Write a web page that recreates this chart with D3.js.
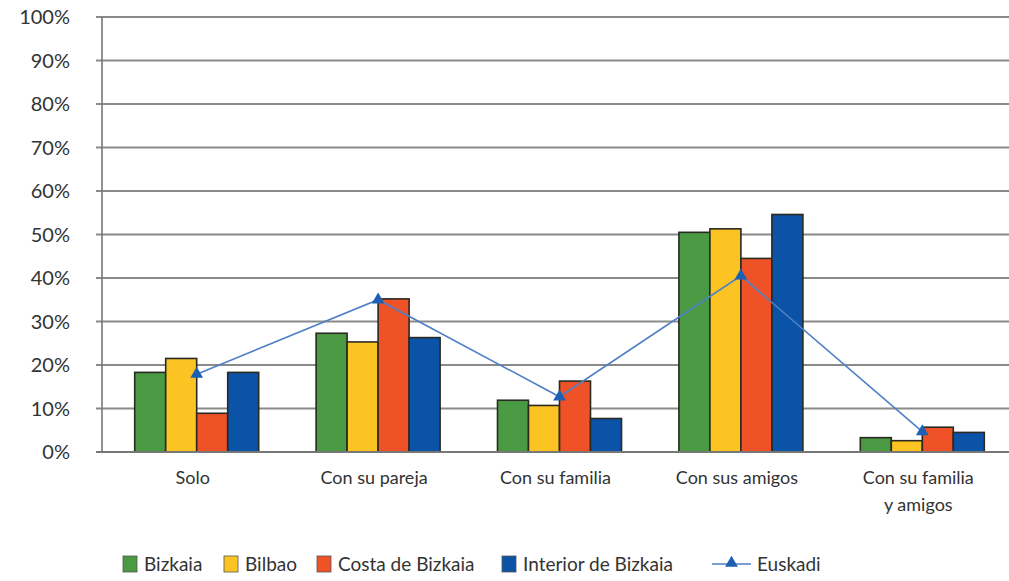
<!DOCTYPE html>
<html>
<head>
<meta charset="utf-8">
<script src="https://cdn.jsdelivr.net/npm/d3@7"></script>
<style>
  body { margin: 0; background: #fff; }
  text { font-family: Lato, "Open Sans", sans-serif; fill: #333; }
</style>
</head>
<body>
<div class="canvas"></div>
<script>
const categories = [['Solo'], ['Con su pareja'], ['Con su familia'], ['Con sus amigos'], ['Con su familia', 'y amigos']];
const catKeys = categories.map(c => c.join(' '));
const seriesNames = ['Bizkaia', 'Bilbao', 'Costa de Bizkaia', 'Interior de Bizkaia'];
const bizkaia = [18.3, 27.3, 11.9, 50.5, 3.3];
const bilbao = [21.5, 25.3, 10.7, 51.3, 2.6];
const costa = [8.9, 35.2, 16.3, 44.5, 5.7];
const interior = [18.3, 26.3, 7.7, 54.6, 4.5];
const euskadi = [17.9, 35.0, 12.7, 40.5, 4.7];
const yTicks = [0, 10, 20, 30, 40, 50, 60, 70, 80, 90, 100];

const colors = ['#4a9a44', '#fbc423', '#ef5226', '#0b53a6'];
const lineColor = '#4f7fc6';
const markerColor = '#1d5fb3';

const width = 1009, height = 581;
const margin = {top: 17, right: 0, bottom: 129, left: 102};
const graphWidth = width - margin.left - margin.right;
const graphHeight = height - margin.top - margin.bottom;

const svg = d3.select('.canvas')
    .append('svg')
    .attr('width', width)
    .attr('height', height);

const graph = svg.append('g')
    .attr('transform', `translate(${margin.left}, ${margin.top})`);

const x = d3.scaleBand().domain(catKeys).range([0, graphWidth]);
const groupWidth = 124;
const shift = 4;
const x1 = d3.scaleBand().domain(seriesNames).range([0, groupWidth]);
const y = d3.scaleLinear().domain([0, 100]).range([graphHeight, 0]);

// gridlines
graph.append('g')
    .selectAll('line')
    .data(yTicks)
    .enter().append('line')
    .attr('x1', -6)
    .attr('x2', graphWidth)
    .attr('y1', d => y(d))
    .attr('y2', d => y(d))
    .attr('stroke', '#8a8a8a')
    .attr('stroke-width', 1.8);

// y axis line
graph.append('line')
    .attr('x1', 0).attr('x2', 0)
    .attr('y1', 0).attr('y2', graphHeight)
    .attr('stroke', '#777')
    .attr('stroke-width', 1.6);

// y labels
graph.append('g')
    .selectAll('text')
    .data(yTicks)
    .enter().append('text')
    .attr('x', -32)
    .attr('y', d => y(d) + 7)
    .attr('text-anchor', 'end')
    .attr('font-size', 20)
    .text(d => d + '%');

const allSeries = [bizkaia, bilbao, costa, interior];

const groups = graph.selectAll('.grp')
    .data(catKeys)
    .enter().append('g')
    .attr('class', 'grp')
    .attr('transform', d => `translate(${x(d) + x.bandwidth() / 2 - groupWidth / 2 + shift}, 0)`);

groups.selectAll('rect')
    .data((d, i) => seriesNames.map((s, j) => ({s, j, v: allSeries[j][i]})))
    .enter().append('rect')
    .attr('x', d => x1(d.s))
    .attr('width', x1.bandwidth())
    .attr('y', d => y(d.v))
    .attr('height', d => graphHeight - y(d.v))
    .attr('fill', d => colors[d.j])
    .attr('stroke', '#2a2a22')
    .attr('stroke-width', 1.6);

// x axis line on top of bars
graph.append('line')
    .attr('x1', -6).attr('x2', graphWidth)
    .attr('y1', graphHeight).attr('y2', graphHeight)
    .attr('stroke', '#777')
    .attr('stroke-width', 1.8);

// category labels
graph.append('g')
    .selectAll('text')
    .data(categories)
    .enter().append('text')
    .attr('text-anchor', 'middle')
    .attr('font-size', 18)
    .attr('x', (d, i) => x(catKeys[i]) + x.bandwidth() / 2)
    .attr('y', graphHeight + 32)
    .selectAll('tspan')
    .data(d => d)
    .enter().append('tspan')
    .attr('x', function() { return d3.select(this.parentNode).attr('x'); })
    .attr('dy', (d, i) => i === 0 ? 0 : 27)
    .text(d => d);

// Euskadi line
const lineX = (d, i) => x(catKeys[i]) + x.bandwidth() / 2 + shift;
const line = d3.line()
    .x(lineX)
    .y(d => y(d));

graph.append('path')
    .datum(euskadi)
    .attr('fill', 'none')
    .attr('stroke', lineColor)
    .attr('stroke-width', 1.6)
    .attr('d', line);

const tri = d3.symbol().type(d3.symbolTriangle).size(70);
graph.append('g')
    .selectAll('path')
    .data(euskadi)
    .enter().append('path')
    .attr('d', tri)
    .attr('transform', (d, i) => `translate(${lineX(d, i)}, ${y(d)})`)
    .attr('fill', markerColor);

// legend
const legendItems = [
  {name: 'Bizkaia', x: 123, type: 'rect', color: colors[0]},
  {name: 'Bilbao', x: 224, type: 'rect', color: colors[1]},
  {name: 'Costa de Bizkaia', x: 317, type: 'rect', color: colors[2]},
  {name: 'Interior de Bizkaia', x: 502, type: 'rect', color: colors[3]},
  {name: 'Euskadi', x: 712, type: 'line', color: lineColor}
];

const legend = svg.append('g');
legendItems.forEach(item => {
  const g = legend.append('g').attr('transform', `translate(${item.x}, 564)`);
  if (item.type === 'rect') {
    g.append('rect')
      .attr('x', 0).attr('y', -8)
      .attr('width', 14).attr('height', 16)
      .attr('fill', item.color)
      .attr('stroke', '#555')
      .attr('stroke-width', 0.8);
    g.append('text')
      .attr('x', 21).attr('y', 7)
      .attr('font-size', 19)
      .text(item.name);
  } else {
    g.append('line')
      .attr('x1', 0).attr('x2', 39)
      .attr('y1', 0).attr('y2', 0)
      .attr('stroke', item.color)
      .attr('stroke-width', 1.6);
    g.append('path')
      .attr('d', tri)
      .attr('transform', 'translate(19.5, -1)')
      .attr('fill', markerColor);
    g.append('text')
      .attr('x', 45).attr('y', 7)
      .attr('font-size', 19)
      .text(item.name);
  }
});
</script>
</body>
</html>
